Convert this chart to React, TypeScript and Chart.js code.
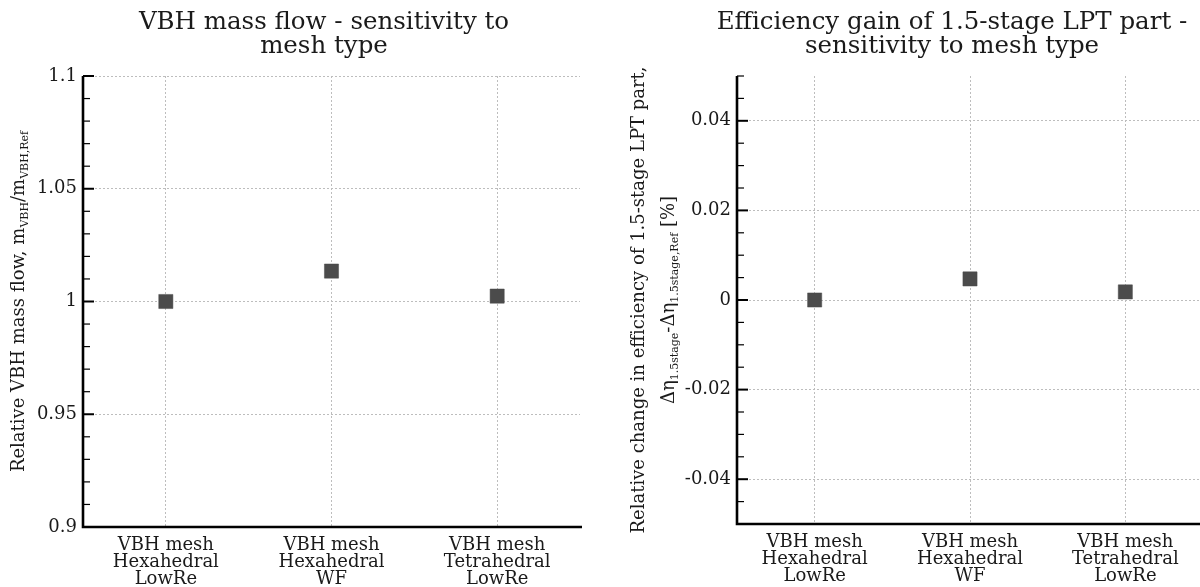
import React, { useEffect, useRef } from 'react';
import { Chart, registerables } from 'chart.js';

Chart.register(...registerables);

// ---------- data ----------
const categories: string[][] = [
  ['VBH mesh', 'Hexahedral', 'LowRe'],
  ['VBH mesh', 'Hexahedral', 'WF'],
  ['VBH mesh', 'Tetrahedral', 'LowRe'],
];
const massFlowValues = [1.0, 1.0135, 1.0024];
const efficiencyValues = [0.0, 0.0047, 0.0018];

const massFlowMajorTicks = [0.9, 0.95, 1.0, 1.05, 1.1];
const massFlowMinorTicks = [0.91, 0.92, 0.93, 0.94, 0.96, 0.97, 0.98, 0.99, 1.01, 1.02, 1.03, 1.04, 1.06, 1.07, 1.08, 1.09];
const efficiencyMajorTicks = [-0.04, -0.02, 0, 0.02, 0.04];
const efficiencyMinorTicks = [-0.045, -0.035, -0.03, -0.025, -0.015, -0.01, -0.005, 0.005, 0.01, 0.015, 0.025, 0.03, 0.035, 0.045, 0.05];

const massFlowTitle = ['VBH mass flow - sensitivity to', 'mesh type'];
const efficiencyTitle = ['Efficiency gain of 1.5-stage LPT part -', 'sensitivity to mesh type'];

type Seg = { t: string; sub?: boolean };
const massFlowAxisTitle: Seg[][] = [
  [{ t: 'Relative VBH mass flow, m' }, { t: 'VBH', sub: true }, { t: '/m' }, { t: 'VBH,Ref', sub: true }],
];
const efficiencyAxisTitle: Seg[][] = [
  [{ t: 'Relative change in efficiency of 1.5-stage LPT part,' }],
  [{ t: 'Δη' }, { t: '1.5stage', sub: true }, { t: '-Δη' }, { t: '1.5stage,Ref', sub: true }, { t: ' [%]' }],
];

// ---------- styles ----------
const FAMILY = '"DejaVu Serif", serif';
const TEXT = '#1a1a1a';
const GRID = '#bdbdbd';
const MARKER = '#4b4b4b';

const fmt = (v: number) => String(Number(v.toFixed(4)));

const decorPlugin = {
  id: 'axisDecor',
  afterDraw(chart: any, _args: any, opts: any) {
    const { ctx, chartArea } = chart;
    const { left, right, top, bottom } = chartArea;
    const y = chart.scales.y;
    ctx.save();
    ctx.strokeStyle = '#000';
    ctx.lineCap = 'butt';
    const hline = (py: number, len: number, w: number) => {
      ctx.lineWidth = w;
      ctx.beginPath();
      ctx.moveTo(left, py);
      ctx.lineTo(left + len, py);
      ctx.stroke();
    };
    (opts.major || []).forEach((v: number) => hline(y.getPixelForValue(v), 11, 2));
    (opts.minor || []).forEach((v: number) => hline(y.getPixelForValue(v), 7, 1.2));
    // axes
    ctx.lineWidth = 2.6;
    ctx.lineJoin = 'miter';
    ctx.beginPath();
    ctx.moveTo(left, top);
    ctx.lineTo(left, bottom);
    ctx.lineTo(right + 2, bottom);
    ctx.stroke();

    // axis title with subscripts
    const lines: Seg[][] = opts.titleLines || [];
    const xs: number[] = opts.titleXs || [];
    const size = opts.titleSize || 18;
    const subSize = Math.round(size * 0.62);
    const cy = (top + bottom) / 2;
    ctx.fillStyle = TEXT;
    ctx.textBaseline = 'alphabetic';
    ctx.textAlign = 'left';
    lines.forEach((segs, li) => {
      ctx.save();
      ctx.translate(xs[li], cy);
      ctx.rotate(-Math.PI / 2);
      let total = 0;
      const widths = segs.map((s) => {
        ctx.font = `${s.sub ? subSize : size}px ${FAMILY}`;
        const w = ctx.measureText(s.t).width;
        total += w;
        return w;
      });
      let x = -total / 2;
      segs.forEach((s, i) => {
        ctx.font = `${s.sub ? subSize : size}px ${FAMILY}`;
        ctx.fillText(s.t, x, s.sub ? 4 : 0);
        x += widths[i];
      });
      ctx.restore();
    });
    ctx.restore();
  },
};

function makeConfig(p: {
  title: string[];
  values: number[];
  min: number;
  max: number;
  major: number[];
  minor: number[];
  yWidth: number;
  xHeight: number;
  padRight: number;
  titleLines: Seg[][];
  titleXs: number[];
}): any {
  return {
    type: 'line',
    data: {
      labels: categories,
      datasets: [
        {
          data: p.values,
          showLine: false,
          pointStyle: 'rect',
          pointRadius: 10,
          pointHoverRadius: 10,
          pointBackgroundColor: MARKER,
          pointBorderColor: MARKER,
          pointBorderWidth: 0.5,
        },
      ],
    },
    options: {
      animation: false,
      responsive: false,
      events: [],
      layout: { padding: 0 },
      plugins: {
        legend: { display: false },
        tooltip: { enabled: false },
        title: {
          display: true,
          text: p.title,
          color: TEXT,
          font: { family: FAMILY, size: 24.5, weight: 'normal', lineHeight: 1.0 },
          padding: { top: 10, bottom: 17 },
        },
        axisDecor: {
          major: p.major,
          minor: p.minor,
          titleLines: p.titleLines,
          titleXs: p.titleXs,
          titleSize: 18,
        },
      },
      scales: {
        x: {
          type: 'category',
          offset: true,
          grid: { display: true, color: GRID, lineWidth: 1, drawTicks: false, offset: false },
          border: { display: false, dash: [2, 2] },
          ticks: {
            color: TEXT,
            font: { family: FAMILY, size: 18, lineHeight: 0.95 },
            padding: 10,
            maxRotation: 0,
            autoSkip: false,
          },
          afterFit: (s: any) => {
            s.height = p.xHeight;
          },
        },
        y: {
          type: 'linear',
          min: p.min,
          max: p.max,
          afterBuildTicks: (s: any) => {
            s.ticks = p.major.map((v) => ({ value: v }));
          },
          grid: { display: true, color: GRID, lineWidth: 1, drawTicks: false },
          border: { display: false, dash: [2, 2] },
          ticks: {
            color: TEXT,
            font: { family: FAMILY, size: 18 },
            padding: 6,
            callback: (v: any) => fmt(Number(v)),
          },
          afterFit: (s: any) => {
            s.width = p.yWidth;
          },
        },
        spacer: {
          type: 'linear',
          position: 'right',
          display: true,
          grid: { display: false, drawTicks: false },
          border: { display: false },
          ticks: { display: false },
          afterFit: (s: any) => {
            s.width = p.padRight;
          },
        },
      },
    },
    plugins: [decorPlugin],
  };
}

function ChartCanvas({ config, width, height, left }: { config: any; width: number; height: number; left: number }) {
  const ref = useRef<HTMLCanvasElement | null>(null);
  useEffect(() => {
    if (!ref.current) return;
    const chart = new Chart(ref.current, config);
    return () => chart.destroy();
  }, [config]);
  return (
    <canvas
      ref={ref}
      width={width}
      height={height}
      style={{ position: 'absolute', left, top: 0, width, height }}
    />
  );
}

const leftConfig = makeConfig({
  title: massFlowTitle,
  values: massFlowValues,
  min: 0.9,
  max: 1.1,
  major: massFlowMajorTicks,
  minor: massFlowMinorTicks,
  yWidth: 83,
  xHeight: 60,
  padRight: 68,
  titleLines: massFlowAxisTitle,
  titleXs: [24],
});

const rightConfig = makeConfig({
  title: efficiencyTitle,
  values: efficiencyValues,
  min: -0.05,
  max: 0.05,
  major: efficiencyMajorTicks,
  minor: efficiencyMinorTicks,
  yWidth: 137,
  xHeight: 63,
  padRight: 101,
  titleLines: efficiencyAxisTitle,
  titleXs: [44, 74],
});

export default function App() {
  return (
    <div
      style={{
        position: 'fixed',
        left: 0,
        top: 0,
        width: 1200,
        height: 587,
        overflow: 'hidden',
        background: '#fff',
      }}
    >
      <ChartCanvas config={leftConfig} width={648} height={587} left={0} />
      <ChartCanvas config={rightConfig} width={704} height={587} left={600} />
    </div>
  );
}
